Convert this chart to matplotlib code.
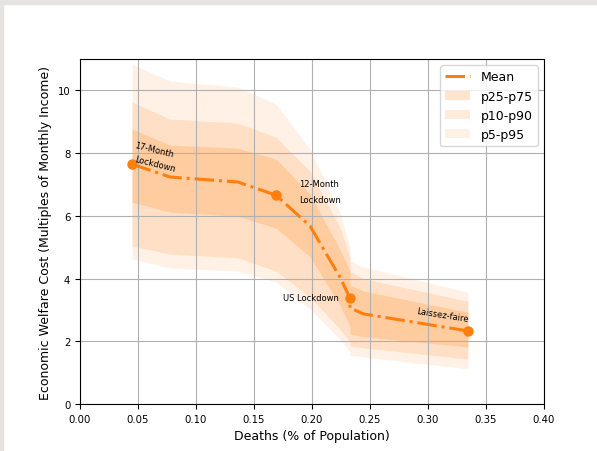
import matplotlib
matplotlib.use("Agg")
import matplotlib.pyplot as plt
from matplotlib.patches import Rectangle

# deaths (% of population) and welfare cost quantiles along the policy frontier
deaths = [0.0448, 0.0776, 0.1362, 0.169, 0.1983, 0.2241, 0.2328, 0.2328, 0.2448, 0.3345]
mean = [7.65, 7.24, 7.08, 6.66, 5.68, 4.05, 3.38, 3.06, 2.87, 2.33]
p5 = [4.62, 4.34, 4.24, 3.89, 3.03, 2.07, 1.66, 1.56, 1.50, 1.12]
p10 = [5.04, 4.78, 4.66, 4.24, 3.41, 2.39, 1.98, 1.85, 1.79, 1.43]
p25 = [6.44, 6.12, 5.99, 5.61, 4.69, 3.16, 2.49, 2.23, 2.14, 1.82]
p75 = [8.77, 8.26, 8.16, 7.81, 6.70, 4.94, 4.24, 3.79, 3.60, 2.93]
p90 = [9.63, 9.09, 8.96, 8.51, 7.43, 5.64, 4.69, 4.24, 3.99, 3.28]
p95 = [10.84, 10.30, 10.11, 9.57, 8.13, 6.12, 5.01, 4.56, 4.37, 3.57]

# named policies (index into the arrays above)
policy_idx = [0, 3, 6, 9]

fig = plt.figure(figsize=(5.97, 4.52), dpi=100)
fig.patches.append(Rectangle((0, 1 - 5 / 452), 1, 5 / 452, transform=fig.transFigure,
                             color="#e5e4e2", zorder=-1))
fig.patches.append(Rectangle((0, 0), 3 / 597, 1, transform=fig.transFigure,
                             color="#e5e4e2", zorder=-1))
ax = fig.add_axes([0.134, 0.104, 0.777, 0.763])

c = "tab:orange"
ax.plot(deaths, mean, "-.", color=c, lw=2.2, label="Mean")
ax.plot([deaths[i] for i in policy_idx], [mean[i] for i in policy_idx], "o",
        color=c, ms=6.5)
ax.fill_between(deaths, p25, p75, color=c, alpha=0.2, lw=0, label="p25-p75")
ax.fill_between(deaths, p10, p90, color=c, alpha=0.15, lw=0, label="p10-p90")
ax.fill_between(deaths, p5, p95, color=c, alpha=0.1, lw=0, label="p5-p95")

fs = 6
ax.text(0.0466, 8.2, "17-Month", fontsize=fs, rotation=-14, rotation_mode="anchor")
ax.text(0.0466, 7.74, "Lockdown", fontsize=fs, rotation=-14, rotation_mode="anchor")
ax.text(0.189, 6.95, "12-Month", fontsize=fs)
ax.text(0.189, 6.44, "Lockdown", fontsize=fs)
ax.text(0.175, 3.32, "US Lockdown", fontsize=fs)
ax.text(0.2897, 2.9, "Laissez-faire", fontsize=fs, rotation=-9, rotation_mode="anchor")

ax.set_xlim(0, 0.4)
ax.set_ylim(0, 11)
ax.set_xticks([0, 0.05, 0.1, 0.15, 0.2, 0.25, 0.3, 0.35, 0.4])
ax.set_xticklabels([f"{v:.2f}" for v in ax.get_xticks()])
ax.set_yticks([0, 2, 4, 6, 8, 10])
ax.tick_params(labelsize=7.3)
ax.grid(True)
ax.set_xlabel("Deaths (% of Population)", fontsize=9)
ax.set_ylabel("Economic Welfare Cost (Multiples of Monthly Income)", fontsize=9)
ax.legend(loc="upper right", fontsize=9)

fig.savefig("out.png", dpi=100)
